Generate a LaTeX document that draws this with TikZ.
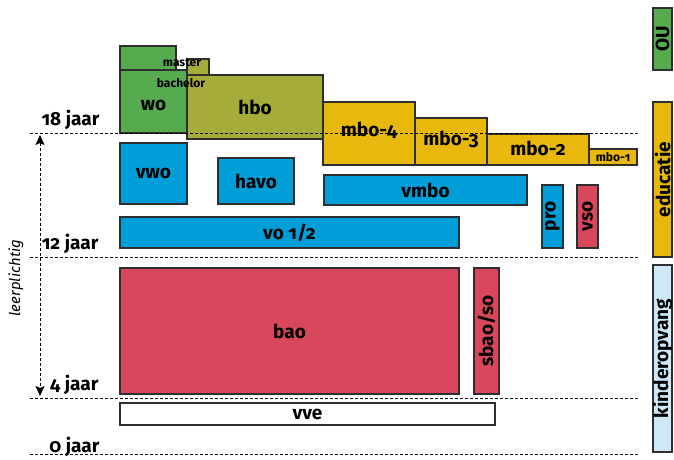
\documentclass[tikz,border=0pt]{standalone}
\usepackage{fontspec}
\setmainfont{Fira Sans}[Numbers=OldStyle]
\usetikzlibrary{arrows.meta}
\definecolor{groen}{HTML}{56AB4F}
\definecolor{olijf}{HTML}{A6AC3A}
\definecolor{geel}{HTML}{E8B80C}
\definecolor{blauw}{HTML}{009ED8}
\definecolor{rood}{HTML}{D8475B}
\definecolor{lichtblauw}{HTML}{CDE8F6}
\definecolor{rand}{HTML}{2E2E2E}

\begin{document}
\begin{tikzpicture}[x=1pt,y=-1pt,font=\bfseries\fontsize{19}{22}\selectfont,
  >={Stealth[length=10pt,width=9pt,inset=2pt]},
  box/.style={draw=rand,line width=1.1pt},
  klein/.style={font=\bfseries\fontsize{12}{14}\selectfont},
  grens/.style={dash pattern=on 3pt off 2pt,line width=0.6pt},
  leeftijd/.style={anchor=east}]
\useasboundingbox (0,0) rectangle (674,460);
% hoger onderwijs
\draw[box,fill=groen] (120,46) rectangle (176,70);
\draw[box,fill=groen] (120,70) rectangle node[yshift=-4pt] (wo) {wo} (187,133);
\draw[box,fill=olijf] (187,59) rectangle (209,75);
\draw[box,fill=olijf] (187,75) rectangle node (hbo) {hbo} (323,139);
\node[klein] (master) at (182,63) {master};
\node[klein] (bachelor) at (181,83) {bachelor};
% mbo
\draw[box,fill=geel] (323,102) rectangle node[yshift=3pt] (mbo4) {mbo-4} (415,165);
\draw[box,fill=geel] (415,118) rectangle node[yshift=2pt] (mbo3) {mbo-3} (487,165);
\draw[box,fill=geel] (487,134) rectangle node[yshift=1pt] (mbo2) {mbo-2} (589,165);
\draw[box,fill=geel] (589,149) rectangle node[klein] (mbo1) {mbo-1} (637,165);
% voortgezet onderwijs
\draw[box,fill=blauw] (120,143) rectangle node (vwo) {vwo} (187,204);
\draw[box,fill=blauw] (218,158) rectangle node (havo) {havo} (294,204);
\draw[box,fill=blauw] (324,175) rectangle node (vmbo) {vmbo} (527,205);
\draw[box,fill=blauw] (542,185) rectangle node[rotate=90] (pro) {pro} (563,248);
\draw[box,fill=rood] (577,185) rectangle node[rotate=90] (vso) {vso} (598,248);
\draw[box,fill=blauw] (120,217) rectangle node (vo12) {vo 1/2} (459,248);
% primair onderwijs
\draw[box,fill=rood] (120,268) rectangle node (bao) {bao} (459,394);
\draw[box,fill=rood] (474,268) rectangle node[rotate=90] (sbao) {sbao/so} (499,394);
\draw[box,fill=white] (120,403) rectangle node (vve) {vve} (495,425);
% sectoren
\draw[box,fill=groen] (653,8) rectangle node[rotate=90] (ou) {OU} (672,70);
\draw[box,fill=geel] (653,102) rectangle node[rotate=90] (educatie) {educatie} (672,257);
\draw[box,fill=lichtblauw] (653,265) rectangle node[rotate=90] (kov) {kinderopvang} (672,452);
% leeftijdsgrenzen
\foreach \y in {133,257,398,454}
  \draw[grens] (30,\y) -- (638,\y);
\node[leeftijd] (j18) at (103,120) {18 jaar};
\node[leeftijd] (j12) at (102,244) {12 jaar};
\node[leeftijd] (j4) at (102,385) {4 jaar};
\node[leeftijd] (j0) at (103,447) {0 jaar};
\coordinate (lpboven) at (40,135);
\coordinate (lponder) at (40,396);
\draw[grens,<->] (lpboven) -- (lponder);
\node[rotate=90,font=\mdseries\itshape\fontsize{15}{18}\selectfont] (lp) at (16,278) {leerplichtig};
\end{tikzpicture}
\end{document}
